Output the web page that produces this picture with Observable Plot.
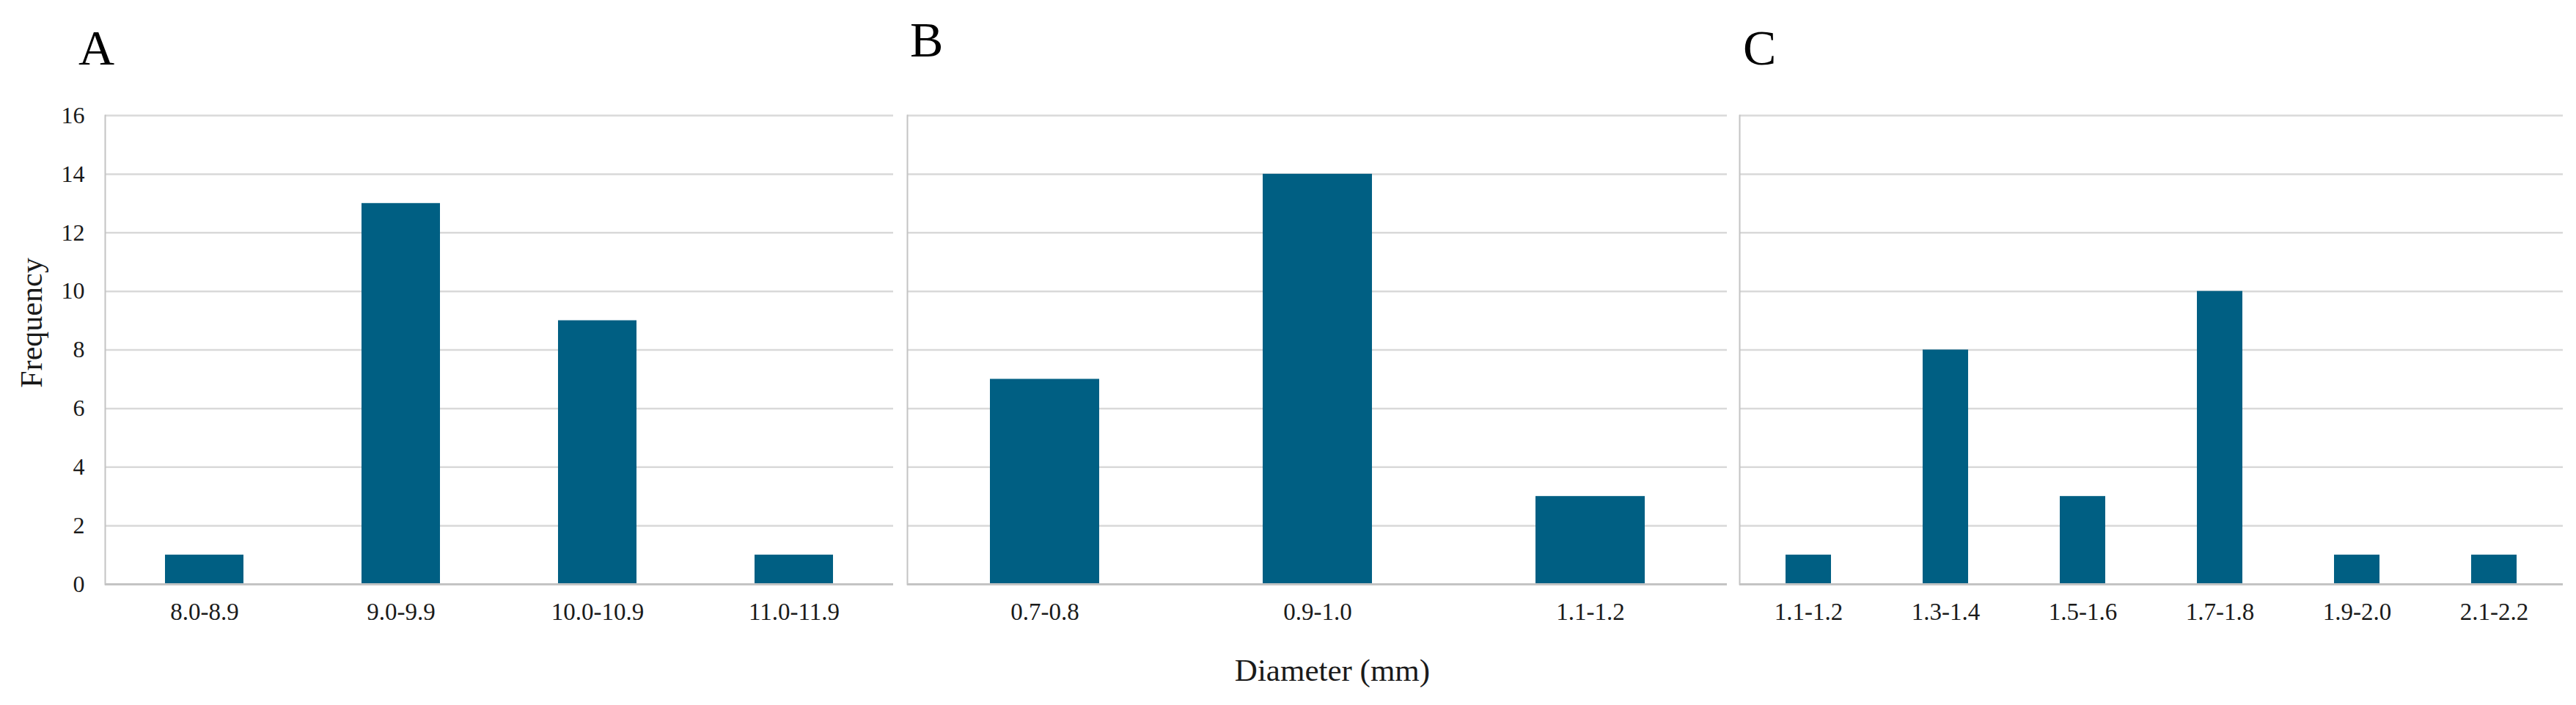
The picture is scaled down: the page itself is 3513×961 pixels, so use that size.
<!DOCTYPE html>
<html>
<head>
<meta charset="utf-8">
<script src="https://cdn.jsdelivr.net/npm/d3@7"></script>
<script src="https://cdn.jsdelivr.net/npm/@observablehq/plot@0.6"></script>
<style>
  html, body { margin: 0; padding: 0; background: #ffffff; }
  #wrap { position: relative; width: 3513px; height: 961px; overflow: hidden; background: #ffffff; font-family: "Liberation Serif", "Times New Roman", serif; }
  .panel { position: absolute; top: 0; }
  #overlay { position: absolute; left: 0; top: 0; pointer-events: none; }
</style>
</head>
<body>
<div id="wrap"></div>
<script>
// ---- data ----
const binsA = ["8.0-8.9", "9.0-9.9", "10.0-10.9", "11.0-11.9"];
const countsA = [1, 13, 9, 1];
const binsB = ["0.7-0.8", "0.9-1.0", "1.1-1.2"];
const countsB = [7, 14, 3];
const binsC = ["1.1-1.2", "1.3-1.4", "1.5-1.6", "1.7-1.8", "1.9-2.0", "2.1-2.2"];
const countsC = [1, 8, 3, 10, 1, 1];
const yTicks = [0, 2, 4, 6, 8, 10, 12, 14, 16];
const panelLabels = ["A", "B", "C"];
const yLabel = "Frequency";
const xLabel = "Diameter (mm)";

// ---- style ----
const FONT = "Liberation Serif, Times New Roman, serif";
const BAR = "#005f83";
const GRID = "#d9d9d9";
const AXIS = "#c4c4c4";
const TEXT = "#1a1a1a";
const H = 961;
const TOP = 157, BOTTOM = H - 796;

function panel({bins, counts, left, plotWidth, mLeft, mRight, pad, showY}) {
  const data = bins.map((b, i) => ({bin: b, count: counts[i]}));
  const marks = [
    Plot.gridY(yTicks.filter(d => d > 0), {stroke: GRID, strokeOpacity: 1, strokeWidth: 2.5}),
    Plot.frame({anchor: "left", stroke: AXIS, strokeWidth: 2}),
    Plot.barY(data, {x: "bin", y: "count", fill: BAR}),
    Plot.ruleY([0], {stroke: AXIS, strokeWidth: 3}),
    Plot.axisX({tickSize: 0, tickPadding: 25, fontSize: 33, fontFamily: FONT, fill: TEXT, label: null})
  ];
  if (showY) marks.push(Plot.axisY(yTicks, {tickSize: 0, tickPadding: 28, fontSize: 32, fontFamily: FONT, fill: TEXT, label: null}));
  const p = Plot.plot({
    width: mLeft + plotWidth + mRight,
    height: H,
    marginLeft: mLeft,
    marginRight: mRight,
    marginTop: TOP,
    marginBottom: BOTTOM,
    style: {background: "transparent", overflow: "visible"},
    x: {type: "band", domain: bins, paddingInner: pad, paddingOuter: pad / 2, axis: null},
    y: {domain: [0, 16], axis: null},
    marks
  });
  p.classList.add("panel");
  p.style.left = left + "px";
  document.getElementById("wrap").appendChild(p);
}

panel({bins: binsA, counts: countsA, left: 0, plotWidth: 1075, mLeft: 143, mRight: 10, pad: 0.6, showY: true});
panel({bins: binsB, counts: countsB, left: 1217, plotWidth: 1118, mLeft: 20, mRight: 10, pad: 0.6, showY: false});
panel({bins: binsC, counts: countsC, left: 2352, plotWidth: 1123, mLeft: 20, mRight: 10, pad: 0.667, showY: false});

// ---- overlay texts: panel letters and axis titles ----
const svg = d3.select("#wrap").append("svg").attr("id", "overlay").attr("width", 3513).attr("height", H);
const letterPos = [[107, 88], [1241, 77], [2377, 88]];
panelLabels.forEach((t, i) => {
  svg.append("text").attr("x", letterPos[i][0]).attr("y", letterPos[i][1])
    .attr("font-family", FONT).attr("font-size", 68).attr("fill", "#000").text(t);
});
svg.append("text").attr("transform", "translate(57,440) rotate(-90)").attr("text-anchor", "middle")
  .attr("font-family", FONT).attr("font-size", 42).attr("fill", TEXT).text(yLabel);
svg.append("text").attr("x", 1817).attr("y", 928).attr("text-anchor", "middle")
  .attr("font-family", FONT).attr("font-size", 43).attr("fill", TEXT).text(xLabel);
</script>
</body>
</html>
